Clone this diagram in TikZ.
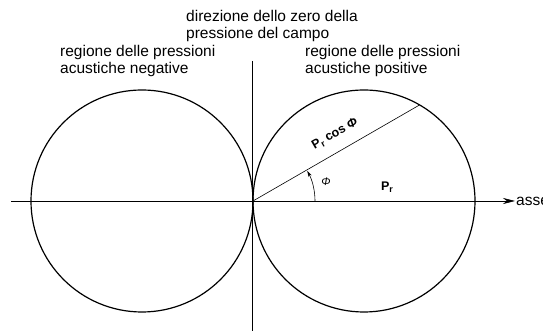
\documentclass[tikz,border=0pt]{standalone}
\usepackage{fontspec}
\setmainfont{Liberation Sans}
\usetikzlibrary{arrows.meta}
\begin{document}
\begin{tikzpicture}[x=1pt,y=1pt,
  lbl/.style={font=\fontsize{15.5}{17}\selectfont, align=left, anchor=north west, inner sep=0pt},
  curve/.style={line width=1.2pt},
  thinline/.style={line width=0.6pt},
  sym/.style={font=\fontsize{12.5}{14}\selectfont\bfseries, inner sep=0pt}]
\useasboundingbox (0,0) rectangle (543,331);
\clip (0,0) rectangle (543,331);
\coordinate (O) at (253,130);
\coordinate (CR) at (364,130);
\coordinate (CL) at (142,130);
\coordinate (axL) at (11,130);
\coordinate (axR) at (515,130);
\coordinate (vT) at (252,270);
\coordinate (vB) at (252,0);
\coordinate (P) at (419.5,226);
\coordinate (A0) at (315,130);
% circles
\draw[curve] (CR) circle (111);
\draw[curve] (CL) circle (111);
% axes
\draw[thinline,-{Stealth[length=12pt,width=6pt]}] (axL) -- (axR);
\draw[line width=0.8pt] (vT) -- (vB);
% radial line
\draw[thinline] (O) -- (P);
% angle arc
\draw[thinline,-{Stealth[length=6pt,width=3.5pt]}] (A0) arc[start angle=0,end angle=29,radius=62];
% labels
\node (asse) [anchor=west, font=\fontsize{15.5}{17}\selectfont, inner sep=1pt] at (axR) {asse};
\node (phi) [sym, font=\fontsize{11}{13}\selectfont\itshape] at (326,149) {Φ};
\node (pr) [sym] at (387,144) {P\raisebox{-0.35ex}{\fontsize{9}{10}\selectfont r}};
\node (prcos) [sym, rotate=30] at (335,197) {P\raisebox{-0.35ex}{\fontsize{9}{10}\selectfont r} cos \textit{Φ}};
\node (title) [lbl] at (186,321) {direzione dello zero della\\pressione del campo};
\node (neg) [lbl] at (60,286) {regione delle pressioni\\acustiche negative};
\node (pos) [lbl] at (305,286) {regione delle pressioni\\acustiche positive};
\end{tikzpicture}
\end{document}
